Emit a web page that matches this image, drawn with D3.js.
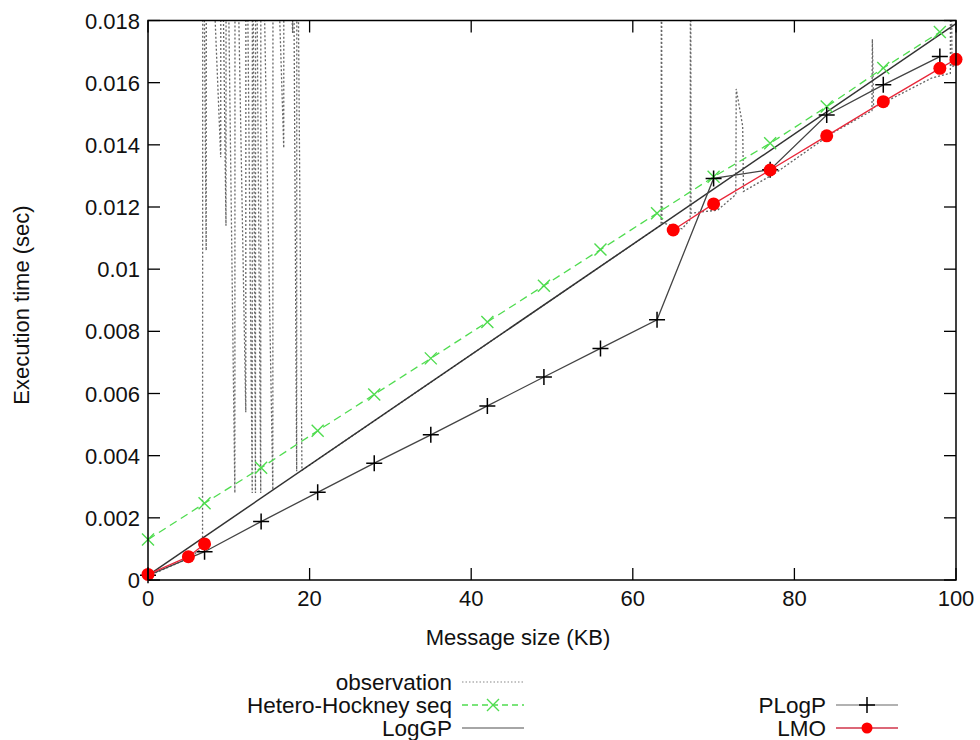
<!DOCTYPE html>
<head>
<meta charset="utf-8">
<style>
body { margin: 0; background: #fff; }
svg text { font-family: "Liberation Sans", Arial, sans-serif; fill: #111; }
.tick-label { font-size: 22px; }
.axis-title { font-size: 22px; }
.legend text { font-size: 22.5px; }
</style>
</head>
<body>
<svg width="980" height="740"></svg>
<script src="https://cdn.jsdelivr.net/npm/d3@7"></script>
<script type="text/javascript">

var svg = d3.select("svg");

// plot box
var pLeft = 148, pRight = 956, pTop = 20.5, pBottom = 580;

// axis ticks
var xTicks = [0, 20, 40, 60, 80, 100];
var xTickLabels = ["0", "20", "40", "60", "80", "100"];
var yTicks = [0, 0.002, 0.004, 0.006, 0.008, 0.01, 0.012, 0.014, 0.016, 0.018];
var yTickLabels = ["0", "0.002", "0.004", "0.006", "0.008", "0.01", "0.012", "0.014", "0.016", "0.018"];

// observation (raw measurements, spikes go off the top)
var obsKB  = [0, 5, 6.75, 6.78, 7.2, 7.22, 9.0, 9.02, 9.65, 9.67, 10.75, 10.77, 12.1, 12.12,
              12.9, 12.92, 13.3, 13.32, 13.95, 13.97, 15.45, 15.47, 16.8, 16.82, 17.9, 17.92,
              18.4, 18.42, 19.05, 63.5, 63.55, 63.6, 66.1, 67.1, 67.15, 67.2, 70.5, 72.75, 72.8,
              73.6, 73.7, 77.7, 84.7, 89.6, 89.65, 89.8, 91.7, 97, 99.3, 99.35, 99.5, 100];
var obsSec = [0.00012, 0.0007, 0.00103, 0.025, 0.0106, 0.025, 0.0136, 0.025, 0.0114, 0.025,
              0.0028, 0.025, 0.0054, 0.025, 0.0028, 0.025, 0.0028, 0.025, 0.0028, 0.025,
              0.0029, 0.025, 0.0139, 0.025, 0.0176, 0.025, 0.0035, 0.025, 0.00353, 0.01142,
              0.025, 0.0115, 0.0113, 0.0116, 0.025, 0.0118, 0.0119, 0.0124, 0.0158, 0.0146,
              0.0125, 0.0131, 0.01438, 0.0151, 0.0174, 0.0152, 0.01544, 0.01615, 0.0163, 0.025,
              0.0165, 0.0166];

// Hetero-Hockney seq
var hockKB  = [0, 7, 14, 21, 28, 35, 42, 49, 56, 63, 70, 77, 84, 91, 98];
var hockSec = [0.0013, 0.00247, 0.00361, 0.0048, 0.00597, 0.00713, 0.0083, 0.00947, 0.01063,
               0.0118, 0.01297, 0.01405, 0.01523, 0.01647, 0.01763];

// LogGP
var loggpKB  = [0, 100];
var loggpSec = [0.00015, 0.0179];

// PLogP
var plogpKB  = [0, 7, 14, 21, 28, 35, 42, 49, 56, 63, 70, 77, 84, 91, 98];
var plogpSec = [0.00015, 0.00091, 0.00188, 0.00282, 0.00376, 0.00467, 0.0056, 0.00653, 0.00745,
                0.00837, 0.01292, 0.0132, 0.01496, 0.01593, 0.01684];

// LMO (no points between 7 and 65)
var lmoKB  = [0, 5, 7, 36, 65, 70, 77, 84, 91, 98, 100];
var lmoSec = [0.00018, 0.00075, 0.00116, null, 0.01126, 0.0121, 0.01319, 0.01429, 0.01539, 0.01646, 0.01675];

var x = d3.scaleLinear().domain([0, 100]).range([pLeft, pRight]);
var y = d3.scaleLinear().domain([0, 0.018]).range([pBottom, pTop]);

function pairs(a, b) { return a.map(function(d, i) { return [d, b[i]]; }); }

var line = d3.line()
  .defined(function(d) { return d[1] !== null; })
  .x(function(d) { return x(d[0]); })
  .y(function(d) { return y(d[1]); });

svg.append("clipPath").attr("id", "plotclip")
  .append("rect").attr("x", pLeft).attr("y", pTop).attr("width", pRight - pLeft).attr("height", pBottom - pTop);

var plot = svg.append("g").attr("clip-path", "url(#plotclip)");

// observation
plot.append("path")
  .attr("d", line(pairs(obsKB, obsSec)))
  .attr("fill", "none").attr("stroke", "#666").attr("stroke-width", 1.3)
  .attr("stroke-dasharray", "2,2");

// Hetero-Hockney
plot.append("path")
  .attr("d", line(pairs(hockKB, hockSec)))
  .attr("fill", "none").attr("stroke", "#4fdc4f").attr("stroke-width", 1.3)
  .attr("stroke-dasharray", "8,5");

// LogGP
plot.append("path")
  .attr("d", line(pairs(loggpKB, loggpSec)))
  .attr("fill", "none").attr("stroke", "#333").attr("stroke-width", 1.5);

// PLogP
plot.append("path")
  .attr("d", line(pairs(plogpKB, plogpSec)))
  .attr("fill", "none").attr("stroke", "#444").attr("stroke-width", 1.3);

// LMO
plot.append("path")
  .attr("d", line(pairs(lmoKB, lmoSec)))
  .attr("fill", "none").attr("stroke", "#e8283a").attr("stroke-width", 1.3);

// markers
function cross(g, cx, cy, s, col) {
  g.append("path")
    .attr("d", "M" + (cx - s) + "," + (cy - s) + "L" + (cx + s) + "," + (cy + s) +
               "M" + (cx - s) + "," + (cy + s) + "L" + (cx + s) + "," + (cy - s))
    .attr("stroke", col).attr("stroke-width", 1.4).attr("fill", "none");
}
function plus(g, cx, cy, s, col) {
  g.append("path")
    .attr("d", "M" + (cx - s) + "," + cy + "L" + (cx + s) + "," + cy +
               "M" + cx + "," + (cy - s) + "L" + cx + "," + (cy + s))
    .attr("stroke", col).attr("stroke-width", 1.5).attr("fill", "none");
}

var marks = svg.append("g");
hockKB.forEach(function(d, i) { cross(marks, x(d), y(hockSec[i]), 6, "#4fdc4f"); });
plogpKB.forEach(function(d, i) { plus(marks, x(d), y(plogpSec[i]), 8, "#000"); });
marks.selectAll("circle.lmo")
  .data(pairs(lmoKB, lmoSec).filter(function(d) { return d[1] !== null; }))
  .enter().append("circle")
  .attr("class", "lmo")
  .attr("cx", function(d) { return x(d[0]); })
  .attr("cy", function(d) { return y(d[1]); })
  .attr("r", 6.5)
  .attr("fill", "#ff0000");

// frame
svg.append("rect")
  .attr("x", pLeft).attr("y", pTop).attr("width", pRight - pLeft).attr("height", pBottom - pTop)
  .attr("fill", "none").attr("stroke", "#000").attr("stroke-width", 1.5);

// ticks (inward, mirrored)
var tl = 12;
var ticks = svg.append("g").attr("stroke", "#000").attr("stroke-width", 1.3);
xTicks.forEach(function(t) {
  ticks.append("line").attr("x1", x(t)).attr("x2", x(t)).attr("y1", pBottom).attr("y2", pBottom - tl);
  ticks.append("line").attr("x1", x(t)).attr("x2", x(t)).attr("y1", pTop).attr("y2", pTop + tl);
});
yTicks.forEach(function(t) {
  ticks.append("line").attr("x1", pLeft).attr("x2", pLeft + tl).attr("y1", y(t)).attr("y2", y(t));
  ticks.append("line").attr("x1", pRight).attr("x2", pRight - tl).attr("y1", y(t)).attr("y2", y(t));
});

svg.selectAll(".xlab")
  .data(xTicks)
  .enter().append("text")
  .attr("class", "tick-label")
  .attr("x", function(d) { return x(d); })
  .attr("y", 606)
  .attr("text-anchor", "middle")
  .text(function(d, i) { return xTickLabels[i]; });

svg.selectAll(".ylab")
  .data(yTicks)
  .enter().append("text")
  .attr("class", "tick-label")
  .attr("x", 140)
  .attr("y", function(d) { return y(d) + 8; })
  .attr("text-anchor", "end")
  .text(function(d, i) { return yTickLabels[i]; });

svg.append("text").attr("class", "axis-title")
  .attr("x", 518).attr("y", 645).attr("text-anchor", "middle")
  .text("Message size (KB)");

svg.append("text").attr("class", "axis-title")
  .attr("transform", "translate(29,305) rotate(-90)")
  .attr("text-anchor", "middle")
  .text("Execution time (sec)");

// legend
var legend = svg.append("g").attr("class", "legend");
function legendRow(tx, ty, label, kind) {
  legend.append("text").attr("x", tx).attr("y", ty + 8).attr("text-anchor", "end").text(label);
  var x1 = tx + 10, x2 = tx + 72, xm = (x1 + x2) / 2;
  if (kind == "obs") {
    legend.append("line").attr("x1", x1).attr("x2", x2).attr("y1", ty).attr("y2", ty)
      .attr("stroke", "#888").attr("stroke-width", 1.2).attr("stroke-dasharray", "1.5,2");
  } else if (kind == "hock") {
    legend.append("line").attr("x1", x1).attr("x2", x2).attr("y1", ty).attr("y2", ty)
      .attr("stroke", "#4fdc4f").attr("stroke-width", 1.3).attr("stroke-dasharray", "6,4");
    cross(legend, xm, ty, 6, "#4fdc4f");
  } else if (kind == "loggp") {
    legend.append("line").attr("x1", x1).attr("x2", x2).attr("y1", ty).attr("y2", ty)
      .attr("stroke", "#888").attr("stroke-width", 1.6);
  } else if (kind == "plogp") {
    legend.append("line").attr("x1", x1).attr("x2", x2).attr("y1", ty).attr("y2", ty)
      .attr("stroke", "#999").attr("stroke-width", 1.6);
    plus(legend, xm, ty, 8, "#000");
  } else {
    legend.append("line").attr("x1", x1).attr("x2", x2).attr("y1", ty).attr("y2", ty)
      .attr("stroke", "#d0354a").attr("stroke-width", 1.6);
    legend.append("circle").attr("cx", xm).attr("cy", ty).attr("r", 5.5).attr("fill", "#ff0000");
  }
}
legendRow(452, 682, "observation", "obs");
legendRow(452, 705, "Hetero-Hockney seq", "hock");
legendRow(452, 728, "LogGP", "loggp");
legendRow(826, 705, "PLogP", "plogp");
legendRow(826, 728, "LMO", "lmo");

</script>
</body>
